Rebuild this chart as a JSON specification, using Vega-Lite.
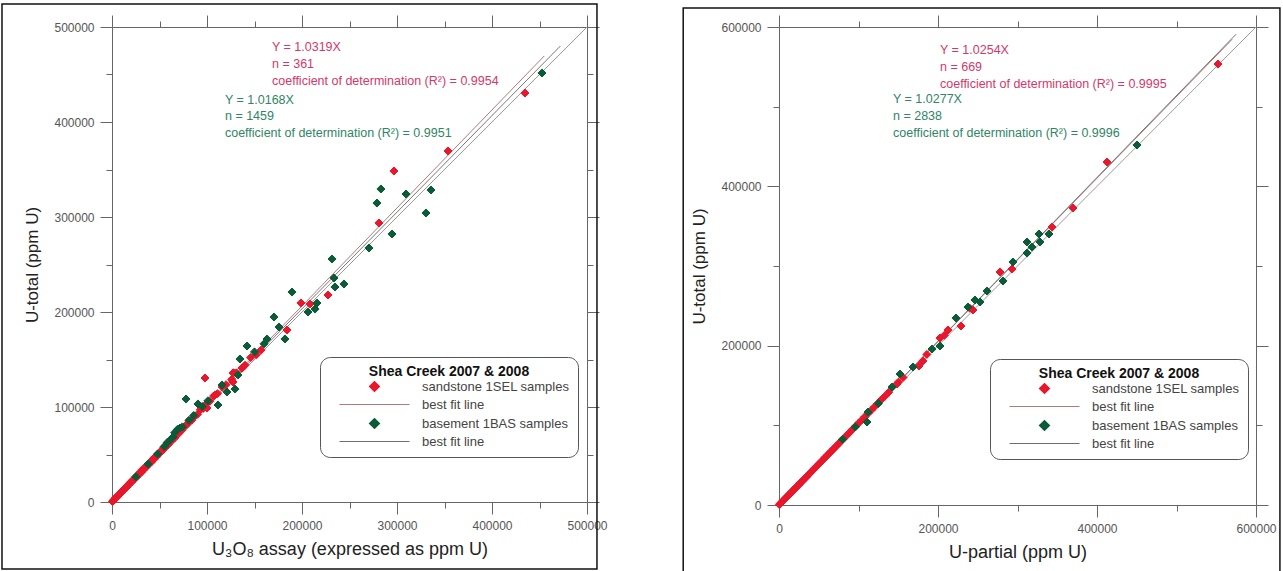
{
  "$schema": "https://vega.github.io/schema/vega-lite/v6.json",
  "padding": {"left": 1, "top": 3, "right": 1, "bottom": 1},
  "config": {
    "font": "Liberation Sans",
    "view": {"stroke": null},
    "axis": {"labelFont": "Liberation Sans", "labelFontSize": 12, "labelColor": "#555", "titleFont": "Liberation Sans", "titleFontSize": 17, "titleFontWeight": "normal", "titleColor": "#222", "domainColor": "#666", "tickColor": "#666", "grid": false, "labelOverlap": false, "labelFlush": false},
    "legend": {"strokeColor": "#555", "cornerRadius": 10, "padding": 8, "fillColor": "#fff", "titleFont": "Liberation Sans", "titleFontSize": 14, "titleFontWeight": "bold", "titleColor": "#111", "titleAnchor": "middle", "titlePadding": 1, "labelFont": "Liberation Sans", "labelFontSize": 13, "labelColor": "#444", "symbolSize": 100, "symbolOffset": 40, "labelOffset": 41, "rowPadding": 4, "symbolStrokeWidth": 1.2}
  },
  "datasets": {
    "leftPts": [
      {"x":500,"y":600,"key":"sandstone 1SEL samples"},{"x":1200,"y":1100,"key":"sandstone 1SEL samples"},{"x":2000,"y":2300,"key":"sandstone 1SEL samples"},{"x":3000,"y":2900,"key":"sandstone 1SEL samples"},{"x":3500,"y":4100,"key":"sandstone 1SEL samples"},{"x":4500,"y":4800,"key":"sandstone 1SEL samples"},{"x":5500,"y":5400,"key":"sandstone 1SEL samples"},{"x":6500,"y":7000,"key":"sandstone 1SEL samples"},{"x":7500,"y":7600,"key":"sandstone 1SEL samples"},{"x":8500,"y":9100,"key":"sandstone 1SEL samples"},{"x":9500,"y":9600,"key":"sandstone 1SEL samples"},{"x":10500,"y":11200,"key":"sandstone 1SEL samples"},{"x":11500,"y":11700,"key":"sandstone 1SEL samples"},{"x":12500,"y":13400,"key":"sandstone 1SEL samples"},{"x":13500,"y":13700,"key":"sandstone 1SEL samples"},{"x":14500,"y":15300,"key":"sandstone 1SEL samples"},{"x":15500,"y":15600,"key":"sandstone 1SEL samples"},{"x":16500,"y":17600,"key":"sandstone 1SEL samples"},{"x":17500,"y":17800,"key":"sandstone 1SEL samples"},{"x":18500,"y":19400,"key":"sandstone 1SEL samples"},{"x":19500,"y":20800,"key":"sandstone 1SEL samples"},{"x":21000,"y":21300,"key":"sandstone 1SEL samples"},{"x":22000,"y":23200,"key":"sandstone 1SEL samples"},{"x":23500,"y":24000,"key":"sandstone 1SEL samples"},{"x":24500,"y":25800,"key":"sandstone 1SEL samples"},{"x":26000,"y":26500,"key":"sandstone 1SEL samples"},{"x":27000,"y":28400,"key":"sandstone 1SEL samples"},{"x":28500,"y":29000,"key":"sandstone 1SEL samples"},{"x":29500,"y":31200,"key":"sandstone 1SEL samples"},{"x":31000,"y":31500,"key":"sandstone 1SEL samples"},{"x":32000,"y":33800,"key":"sandstone 1SEL samples"},{"x":33500,"y":34100,"key":"sandstone 1SEL samples"},{"x":34500,"y":36200,"key":"sandstone 1SEL samples"},{"x":36000,"y":36800,"key":"sandstone 1SEL samples"},{"x":37500,"y":39100,"key":"sandstone 1SEL samples"},{"x":38500,"y":39200,"key":"sandstone 1SEL samples"},{"x":40000,"y":41800,"key":"sandstone 1SEL samples"},{"x":41500,"y":42200,"key":"sandstone 1SEL samples"},{"x":43000,"y":45100,"key":"sandstone 1SEL samples"},{"x":44000,"y":44900,"key":"sandstone 1SEL samples"},{"x":45500,"y":47600,"key":"sandstone 1SEL samples"},{"x":47000,"y":47800,"key":"sandstone 1SEL samples"},{"x":48500,"y":50700,"key":"sandstone 1SEL samples"},{"x":50000,"y":51200,"key":"sandstone 1SEL samples"},{"x":51500,"y":53800,"key":"sandstone 1SEL samples"},{"x":53000,"y":54000,"key":"sandstone 1SEL samples"},{"x":54500,"y":57100,"key":"sandstone 1SEL samples"},{"x":56000,"y":57200,"key":"sandstone 1SEL samples"},{"x":57500,"y":60000,"key":"sandstone 1SEL samples"},{"x":59000,"y":60200,"key":"sandstone 1SEL samples"},{"x":61000,"y":63600,"key":"sandstone 1SEL samples"},{"x":62500,"y":64000,"key":"sandstone 1SEL samples"},{"x":64000,"y":67100,"key":"sandstone 1SEL samples"},{"x":66000,"y":67400,"key":"sandstone 1SEL samples"},{"x":68000,"y":71000,"key":"sandstone 1SEL samples"},{"x":70000,"y":71800,"key":"sandstone 1SEL samples"},{"x":72000,"y":75400,"key":"sandstone 1SEL samples"},{"x":74000,"y":76000,"key":"sandstone 1SEL samples"},{"x":76500,"y":79800,"key":"sandstone 1SEL samples"},{"x":79000,"y":81500,"key":"sandstone 1SEL samples"},{"x":81500,"y":85000,"key":"sandstone 1SEL samples"},{"x":84000,"y":86200,"key":"sandstone 1SEL samples"},{"x":87000,"y":90600,"key":"sandstone 1SEL samples"},{"x":90000,"y":92300,"key":"sandstone 1SEL samples"},{"x":93000,"y":97000,"key":"sandstone 1SEL samples"},{"x":96000,"y":98500,"key":"sandstone 1SEL samples"},{"x":99000,"y":103000,"key":"sandstone 1SEL samples"},{"x":103000,"y":106000,"key":"sandstone 1SEL samples"},{"x":107000,"y":111500,"key":"sandstone 1SEL samples"},{"x":111000,"y":114000,"key":"sandstone 1SEL samples"},{"x":116000,"y":121000,"key":"sandstone 1SEL samples"},{"x":120000,"y":123500,"key":"sandstone 1SEL samples"},{"x":126000,"y":129000,"key":"sandstone 1SEL samples"},{"x":131000,"y":136000,"key":"sandstone 1SEL samples"},{"x":137000,"y":141000,"key":"sandstone 1SEL samples"},{"x":128000,"y":136000,"key":"sandstone 1SEL samples"},{"x":140000,"y":144000,"key":"sandstone 1SEL samples"},{"x":146000,"y":152000,"key":"sandstone 1SEL samples"},{"x":152000,"y":155000,"key":"sandstone 1SEL samples"},{"x":157000,"y":160000,"key":"sandstone 1SEL samples"},
      {"x":434700,"y":430500,"key":"sandstone 1SEL samples"},{"x":353700,"y":369500,"key":"sandstone 1SEL samples"},{"x":296800,"y":348400,"key":"sandstone 1SEL samples"},{"x":281000,"y":293700,"key":"sandstone 1SEL samples"},{"x":227400,"y":217900,"key":"sandstone 1SEL samples"},{"x":198900,"y":209500,"key":"sandstone 1SEL samples"},{"x":208400,"y":208400,"key":"sandstone 1SEL samples"},{"x":184200,"y":181000,"key":"sandstone 1SEL samples"},{"x":136800,"y":141000,"key":"sandstone 1SEL samples"},{"x":127400,"y":135800,"key":"sandstone 1SEL samples"},{"x":97900,"y":130500,"key":"sandstone 1SEL samples"},{"x":127400,"y":126300,"key":"sandstone 1SEL samples"},{"x":108400,"y":112600,"key":"sandstone 1SEL samples"},{"x":100000,"y":98900,"key":"sandstone 1SEL samples"},{"x":85300,"y":88400,"key":"sandstone 1SEL samples"},
      {"x":452600,"y":451600,"key":"basement 1BAS samples"},{"x":283100,"y":329500,"key":"basement 1BAS samples"},{"x":309500,"y":324200,"key":"basement 1BAS samples"},{"x":335800,"y":328400,"key":"basement 1BAS samples"},{"x":278900,"y":314700,"key":"basement 1BAS samples"},{"x":330500,"y":304200,"key":"basement 1BAS samples"},{"x":294700,"y":282100,"key":"basement 1BAS samples"},{"x":270500,"y":267400,"key":"basement 1BAS samples"},{"x":231600,"y":255800,"key":"basement 1BAS samples"},{"x":233700,"y":235800,"key":"basement 1BAS samples"},{"x":244200,"y":229500,"key":"basement 1BAS samples"},{"x":234700,"y":226300,"key":"basement 1BAS samples"},{"x":189500,"y":221000,"key":"basement 1BAS samples"},{"x":215800,"y":209500,"key":"basement 1BAS samples"},{"x":213700,"y":203100,"key":"basement 1BAS samples"},{"x":206300,"y":200000,"key":"basement 1BAS samples"},{"x":170500,"y":194700,"key":"basement 1BAS samples"},{"x":175800,"y":184200,"key":"basement 1BAS samples"},{"x":163200,"y":171600,"key":"basement 1BAS samples"},{"x":182100,"y":171600,"key":"basement 1BAS samples"},{"x":142100,"y":164200,"key":"basement 1BAS samples"},{"x":134700,"y":150500,"key":"basement 1BAS samples"},{"x":132600,"y":133700,"key":"basement 1BAS samples"},{"x":129500,"y":118900,"key":"basement 1BAS samples"},{"x":115800,"y":123200,"key":"basement 1BAS samples"},{"x":121000,"y":115800,"key":"basement 1BAS samples"},{"x":77900,"y":108400,"key":"basement 1BAS samples"},{"x":90500,"y":103200,"key":"basement 1BAS samples"},{"x":111600,"y":102100,"key":"basement 1BAS samples"},{"x":71600,"y":77900,"key":"basement 1BAS samples"},{"x":64200,"y":68400,"key":"basement 1BAS samples"},{"x":61100,"y":65300,"key":"basement 1BAS samples"},{"x":66000,"y":73000,"key":"basement 1BAS samples"},{"x":69000,"y":76500,"key":"basement 1BAS samples"},{"x":74000,"y":79000,"key":"basement 1BAS samples"},{"x":58000,"y":62500,"key":"basement 1BAS samples"},{"x":55000,"y":58500,"key":"basement 1BAS samples"},{"x":81000,"y":86000,"key":"basement 1BAS samples"},{"x":86000,"y":91000,"key":"basement 1BAS samples"},{"x":95000,"y":100500,"key":"basement 1BAS samples"},{"x":101000,"y":106500,"key":"basement 1BAS samples"},{"x":48000,"y":50500,"key":"basement 1BAS samples"},{"x":38000,"y":40000,"key":"basement 1BAS samples"},{"x":25000,"y":26500,"key":"basement 1BAS samples"},{"x":150000,"y":158000,"key":"basement 1BAS samples"},{"x":160000,"y":166500,"key":"basement 1BAS samples"}
    ],
    "rightPts": [
      {"x":500,"y":500,"key":"sandstone 1SEL samples"},{"x":1500,"y":1600,"key":"sandstone 1SEL samples"},{"x":2500,"y":2600,"key":"sandstone 1SEL samples"},{"x":4000,"y":4000,"key":"sandstone 1SEL samples"},{"x":5000,"y":5200,"key":"sandstone 1SEL samples"},{"x":6500,"y":6600,"key":"sandstone 1SEL samples"},{"x":8000,"y":8300,"key":"sandstone 1SEL samples"},{"x":9000,"y":9200,"key":"sandstone 1SEL samples"},{"x":10500,"y":10800,"key":"sandstone 1SEL samples"},{"x":12000,"y":12300,"key":"sandstone 1SEL samples"},{"x":13000,"y":13400,"key":"sandstone 1SEL samples"},{"x":14500,"y":14800,"key":"sandstone 1SEL samples"},{"x":16000,"y":16500,"key":"sandstone 1SEL samples"},{"x":17500,"y":17900,"key":"sandstone 1SEL samples"},{"x":19000,"y":19600,"key":"sandstone 1SEL samples"},{"x":20500,"y":21000,"key":"sandstone 1SEL samples"},{"x":22000,"y":22600,"key":"sandstone 1SEL samples"},{"x":24000,"y":24600,"key":"sandstone 1SEL samples"},{"x":25500,"y":26200,"key":"sandstone 1SEL samples"},{"x":27000,"y":27800,"key":"sandstone 1SEL samples"},{"x":29000,"y":29700,"key":"sandstone 1SEL samples"},{"x":30500,"y":31400,"key":"sandstone 1SEL samples"},{"x":32000,"y":32900,"key":"sandstone 1SEL samples"},{"x":34000,"y":34800,"key":"sandstone 1SEL samples"},{"x":36000,"y":36900,"key":"sandstone 1SEL samples"},{"x":37500,"y":38600,"key":"sandstone 1SEL samples"},{"x":39500,"y":40500,"key":"sandstone 1SEL samples"},{"x":41500,"y":42700,"key":"sandstone 1SEL samples"},{"x":43500,"y":44600,"key":"sandstone 1SEL samples"},{"x":45500,"y":46800,"key":"sandstone 1SEL samples"},{"x":47500,"y":48700,"key":"sandstone 1SEL samples"},{"x":50000,"y":51300,"key":"sandstone 1SEL samples"},{"x":52000,"y":53400,"key":"sandstone 1SEL samples"},{"x":54500,"y":55800,"key":"sandstone 1SEL samples"},{"x":57000,"y":58600,"key":"sandstone 1SEL samples"},{"x":59000,"y":60500,"key":"sandstone 1SEL samples"},{"x":61500,"y":63100,"key":"sandstone 1SEL samples"},{"x":64000,"y":65700,"key":"sandstone 1SEL samples"},{"x":66500,"y":68200,"key":"sandstone 1SEL samples"},{"x":69000,"y":70800,"key":"sandstone 1SEL samples"},{"x":72000,"y":73800,"key":"sandstone 1SEL samples"},{"x":75000,"y":77000,"key":"sandstone 1SEL samples"},{"x":78000,"y":80000,"key":"sandstone 1SEL samples"},{"x":81000,"y":83200,"key":"sandstone 1SEL samples"},{"x":84000,"y":86100,"key":"sandstone 1SEL samples"},{"x":87000,"y":89300,"key":"sandstone 1SEL samples"},{"x":90000,"y":92200,"key":"sandstone 1SEL samples"},{"x":93000,"y":95500,"key":"sandstone 1SEL samples"},{"x":97000,"y":99500,"key":"sandstone 1SEL samples"},{"x":100000,"y":102700,"key":"sandstone 1SEL samples"},{"x":104000,"y":106600,"key":"sandstone 1SEL samples"},{"x":108000,"y":110800,"key":"sandstone 1SEL samples"},{"x":112000,"y":115000,"key":"sandstone 1SEL samples"},{"x":116000,"y":119000,"key":"sandstone 1SEL samples"},{"x":120000,"y":123000,"key":"sandstone 1SEL samples"},{"x":124000,"y":127200,"key":"sandstone 1SEL samples"},{"x":128000,"y":131500,"key":"sandstone 1SEL samples"},{"x":133000,"y":136300,"key":"sandstone 1SEL samples"},{"x":138000,"y":141500,"key":"sandstone 1SEL samples"},{"x":150000,"y":154000,"key":"sandstone 1SEL samples"},{"x":156000,"y":160000,"key":"sandstone 1SEL samples"},
      {"x":552200,"y":553500,"key":"sandstone 1SEL samples"},{"x":412600,"y":430500,"key":"sandstone 1SEL samples"},{"x":369800,"y":372800,"key":"sandstone 1SEL samples"},{"x":343400,"y":348900,"key":"sandstone 1SEL samples"},{"x":293100,"y":296200,"key":"sandstone 1SEL samples"},{"x":278000,"y":292500,"key":"sandstone 1SEL samples"},{"x":244000,"y":244800,"key":"sandstone 1SEL samples"},{"x":228900,"y":224700,"key":"sandstone 1SEL samples"},{"x":212600,"y":219700,"key":"sandstone 1SEL samples"},{"x":202500,"y":209600,"key":"sandstone 1SEL samples"},{"x":181100,"y":180800,"key":"sandstone 1SEL samples"},{"x":176100,"y":174500,"key":"sandstone 1SEL samples"},{"x":148400,"y":151900,"key":"sandstone 1SEL samples"},{"x":186000,"y":189000,"key":"sandstone 1SEL samples"},{"x":208000,"y":213000,"key":"sandstone 1SEL samples"},{"x":240000,"y":247000,"key":"sandstone 1SEL samples"},
      {"x":450300,"y":451900,"key":"basement 1BAS samples"},{"x":339600,"y":340200,"key":"basement 1BAS samples"},{"x":327000,"y":340200,"key":"basement 1BAS samples"},{"x":312000,"y":330100,"key":"basement 1BAS samples"},{"x":318200,"y":323800,"key":"basement 1BAS samples"},{"x":312000,"y":316300,"key":"basement 1BAS samples"},{"x":328300,"y":330100,"key":"basement 1BAS samples"},{"x":294300,"y":305000,"key":"basement 1BAS samples"},{"x":281800,"y":281200,"key":"basement 1BAS samples"},{"x":261600,"y":268600,"key":"basement 1BAS samples"},{"x":246500,"y":257300,"key":"basement 1BAS samples"},{"x":252800,"y":254800,"key":"basement 1BAS samples"},{"x":237700,"y":248500,"key":"basement 1BAS samples"},{"x":222600,"y":234700,"key":"basement 1BAS samples"},{"x":192500,"y":195800,"key":"basement 1BAS samples"},{"x":202500,"y":199600,"key":"basement 1BAS samples"},{"x":168600,"y":173200,"key":"basement 1BAS samples"},{"x":152200,"y":164400,"key":"basement 1BAS samples"},{"x":142100,"y":148100,"key":"basement 1BAS samples"},{"x":112000,"y":116700,"key":"basement 1BAS samples"},{"x":110700,"y":104200,"key":"basement 1BAS samples"},{"x":125000,"y":127500,"key":"basement 1BAS samples"},{"x":96000,"y":98000,"key":"basement 1BAS samples"},{"x":80000,"y":82500,"key":"basement 1BAS samples"}
    ]
  },
  "hconcat": [
    {
      "width": 475,
      "height": 475,
      "resolve": {"axis": {"x": "independent", "y": "independent"}},
      "layer": [
        {
          "data": {"values": [{}]},
          "mark": {"type": "rect", "filled": false, "stroke": "#111", "strokeWidth": 1.5, "clip": false},
          "encoding": {
            "x": {"datum": -115800, "type": "quantitative", "scale": {"domain": [0, 500000], "nice": false, "zero": false}, "axis": null},
            "x2": {"datum": 510500},
            "y": {"datum": 524200, "type": "quantitative", "scale": {"domain": [0, 500000], "nice": false, "zero": false}, "axis": null},
            "y2": {"datum": -70500}
          }
        },
        {
          "data": {"values": [{"x": 0, "y": 0}, {"x": 500000, "y": 500000}]},
          "mark": {"type": "line", "color": "#9a9a9a", "strokeWidth": 1},
          "encoding": {
            "x": {"field": "x", "type": "quantitative", "scale": {"domain": [0, 500000], "nice": false, "zero": false},
              "axis": {"orient": "top", "values": [0,50000,100000,150000,200000,250000,300000,350000,400000,450000,500000], "labels": false, "title": null, "tickSize": {"condition": {"test": "datum.value % 100000 === 0", "value": 12}, "value": 6}}},
            "y": {"field": "y", "type": "quantitative", "scale": {"domain": [0, 500000], "nice": false, "zero": false},
              "axis": {"orient": "right", "values": [0,50000,100000,150000,200000,250000,300000,350000,400000,450000,500000], "labels": false, "title": null, "tickSize": {"condition": {"test": "datum.value % 100000 === 0", "value": 12}, "value": 6}}}
          }
        },
        {
          "data": {"values": [{"x": 0, "y": 0}, {"x": 455000, "y": 469500}]},
          "mark": {"type": "line", "color": "#b07a7a", "strokeWidth": 1},
          "encoding": {
            "x": {"field": "x", "type": "quantitative", "scale": {"domain": [0, 500000], "nice": false, "zero": false}, "axis": null},
            "y": {"field": "y", "type": "quantitative", "scale": {"domain": [0, 500000], "nice": false, "zero": false}, "axis": null}
          }
        },
        {
          "data": {"values": [{"x": 0, "y": 0}, {"x": 472000, "y": 480000}]},
          "mark": {"type": "line", "color": "#777777", "strokeWidth": 1},
          "encoding": {
            "x": {"field": "x", "type": "quantitative", "scale": {"domain": [0, 500000], "nice": false, "zero": false}, "axis": null},
            "y": {"field": "y", "type": "quantitative", "scale": {"domain": [0, 500000], "nice": false, "zero": false}, "axis": null}
          }
        },
        {
          "data": {"name": "leftPts"},
          "mark": {"type": "point", "filled": true, "size": 65, "opacity": 1, "strokeWidth": 1},
          "encoding": {
            "x": {"field": "x", "type": "quantitative", "scale": {"domain": [0, 500000], "nice": false, "zero": false},
              "axis": {"orient": "bottom", "values": [0,50000,100000,150000,200000,250000,300000,350000,400000,450000,500000], "format": "d", "labelExpr": "datum.value % 100000 === 0 ? datum.label : ''", "labelPadding": 6, "title": "U₃O₈ assay (expressed as ppm U)", "titleFontSize": 18, "titlePadding": 9, "tickSize": {"condition": {"test": "datum.value % 100000 === 0", "value": 12}, "value": 6}}},
            "y": {"field": "y", "type": "quantitative", "scale": {"domain": [0, 500000], "nice": false, "zero": false},
              "axis": {"orient": "left", "values": [0,50000,100000,150000,200000,250000,300000,350000,400000,450000,500000], "format": "d", "labelExpr": "datum.value % 100000 === 0 ? datum.label : ''", "labelPadding": 6, "title": "U-total (ppm U)", "titlePadding": 12, "tickSize": {"condition": {"test": "datum.value % 100000 === 0", "value": 12}, "value": 6}}},
            "color": {"field": "key", "type": "nominal",
              "scale": {"domain": ["sandstone 1SEL samples", "best fit line", "basement 1BAS samples", "best fit line "], "range": ["#e8172b", "#b07a7a", "#0b5a38", "#6e6e6e"]},
              "legend": {"title": "Shea Creek 2007 & 2008", "orient": "none", "legendX": 208, "legendY": 330}},
            "stroke": {"field": "key", "type": "nominal",
              "scale": {"domain": ["sandstone 1SEL samples", "best fit line", "basement 1BAS samples", "best fit line "], "range": ["#e8172b", "#b07a7a", "#0b5a38", "#6e6e6e"]},
              "legend": {"title": "Shea Creek 2007 & 2008", "orient": "none", "legendX": 208, "legendY": 330}},
            "shape": {"field": "key", "type": "nominal",
              "scale": {"domain": ["sandstone 1SEL samples", "best fit line", "basement 1BAS samples", "best fit line "], "range": ["diamond", "M-7,0H7", "diamond", "M-7,0H7"]},
              "legend": {"title": "Shea Creek 2007 & 2008", "orient": "none", "legendX": 208, "legendY": 330}}
          }
        },
        {
          "data": {"values": [{"t": "Y = 1.0319X\nn = 361\ncoefficient of determination (R²) = 0.9954"}]},
          "mark": {"type": "text", "lineBreak": "\n", "align": "left", "baseline": "top", "fontSize": 12.5, "lineHeight": 16.8, "color": "#d4376a", "font": "Liberation Sans"},
          "encoding": {
            "x": {"datum": 168400, "type": "quantitative", "scale": {"domain": [0, 500000], "nice": false, "zero": false}, "axis": null},
            "y": {"datum": 485000, "type": "quantitative", "scale": {"domain": [0, 500000], "nice": false, "zero": false}, "axis": null},
            "text": {"field": "t"}
          }
        },
        {
          "data": {"values": [{"t": "Y = 1.0168X\nn = 1459\ncoefficient of determination (R²) = 0.9951"}]},
          "mark": {"type": "text", "lineBreak": "\n", "align": "left", "baseline": "top", "fontSize": 12.5, "lineHeight": 16.8, "color": "#2f8565", "font": "Liberation Sans"},
          "encoding": {
            "x": {"datum": 118900, "type": "quantitative", "scale": {"domain": [0, 500000], "nice": false, "zero": false}, "axis": null},
            "y": {"datum": 430000, "type": "quantitative", "scale": {"domain": [0, 500000], "nice": false, "zero": false}, "axis": null},
            "text": {"field": "t"}
          }
        }
      ]
    },
    {
      "width": 477,
      "height": 478,
      "resolve": {"axis": {"x": "independent", "y": "independent"}},
      "layer": [
        {
          "data": {"values": [{}]},
          "mark": {"type": "rect", "filled": false, "stroke": "#111", "strokeWidth": 1.5, "clip": false},
          "encoding": {
            "x": {"datum": -120500, "type": "quantitative", "scale": {"domain": [0, 600000], "nice": false, "zero": false}, "axis": null},
            "x2": {"datum": 630100},
            "y": {"datum": 623800, "type": "quantitative", "scale": {"domain": [0, 600000], "nice": false, "zero": false}, "axis": null},
            "y2": {"datum": -85400}
          }
        },
        {
          "data": {"values": [{"x": 0, "y": 0}, {"x": 600000, "y": 600000}]},
          "mark": {"type": "line", "color": "#9a9a9a", "strokeWidth": 1},
          "encoding": {
            "x": {"field": "x", "type": "quantitative", "scale": {"domain": [0, 600000], "nice": false, "zero": false},
              "axis": {"orient": "top", "values": [0,100000,200000,300000,400000,500000,600000], "labels": false, "title": null, "tickSize": {"condition": {"test": "datum.value % 200000 === 0", "value": 12}, "value": 6}}},
            "y": {"field": "y", "type": "quantitative", "scale": {"domain": [0, 600000], "nice": false, "zero": false},
              "axis": {"orient": "right", "values": [0,100000,200000,300000,400000,500000,600000], "labels": false, "title": null, "tickSize": {"condition": {"test": "datum.value % 200000 === 0", "value": 12}, "value": 6}}}
          }
        },
        {
          "data": {"values": [{"x": 0, "y": 0}, {"x": 570000, "y": 584500}]},
          "mark": {"type": "line", "color": "#b07a7a", "strokeWidth": 1},
          "encoding": {
            "x": {"field": "x", "type": "quantitative", "scale": {"domain": [0, 600000], "nice": false, "zero": false}, "axis": null},
            "y": {"field": "y", "type": "quantitative", "scale": {"domain": [0, 600000], "nice": false, "zero": false}, "axis": null}
          }
        },
        {
          "data": {"values": [{"x": 0, "y": 0}, {"x": 575000, "y": 591000}]},
          "mark": {"type": "line", "color": "#777777", "strokeWidth": 1},
          "encoding": {
            "x": {"field": "x", "type": "quantitative", "scale": {"domain": [0, 600000], "nice": false, "zero": false}, "axis": null},
            "y": {"field": "y", "type": "quantitative", "scale": {"domain": [0, 600000], "nice": false, "zero": false}, "axis": null}
          }
        },
        {
          "data": {"name": "rightPts"},
          "mark": {"type": "point", "filled": true, "size": 65, "opacity": 1, "strokeWidth": 1},
          "encoding": {
            "x": {"field": "x", "type": "quantitative", "scale": {"domain": [0, 600000], "nice": false, "zero": false},
              "axis": {"orient": "bottom", "values": [0,100000,200000,300000,400000,500000,600000], "format": "d", "labelExpr": "datum.value % 200000 === 0 ? datum.label : ''", "labelPadding": 6, "title": "U-partial (ppm U)", "titleFontSize": 18, "titlePadding": 9, "tickSize": {"condition": {"test": "datum.value % 200000 === 0", "value": 12}, "value": 6}}},
            "y": {"field": "y", "type": "quantitative", "scale": {"domain": [0, 600000], "nice": false, "zero": false},
              "axis": {"orient": "left", "values": [0,100000,200000,300000,400000,500000,600000], "format": "d", "labelExpr": "datum.value % 200000 === 0 ? datum.label : ''", "labelPadding": 6, "title": "U-total (ppm U)", "titlePadding": 12, "tickSize": {"condition": {"test": "datum.value % 200000 === 0", "value": 12}, "value": 6}}},
            "color": {"field": "key", "type": "nominal",
              "scale": {"domain": ["sandstone 1SEL samples", "best fit line", "basement 1BAS samples", "best fit line "], "range": ["#e8172b", "#b07a7a", "#0b5a38", "#6e6e6e"]},
              "legend": {"title": "Shea Creek 2007 & 2008", "orient": "none", "legendX": 211, "legendY": 332}},
            "stroke": {"field": "key", "type": "nominal",
              "scale": {"domain": ["sandstone 1SEL samples", "best fit line", "basement 1BAS samples", "best fit line "], "range": ["#e8172b", "#b07a7a", "#0b5a38", "#6e6e6e"]},
              "legend": {"title": "Shea Creek 2007 & 2008", "orient": "none", "legendX": 211, "legendY": 332}},
            "shape": {"field": "key", "type": "nominal",
              "scale": {"domain": ["sandstone 1SEL samples", "best fit line", "basement 1BAS samples", "best fit line "], "range": ["diamond", "M-7,0H7", "diamond", "M-7,0H7"]},
              "legend": {"title": "Shea Creek 2007 & 2008", "orient": "none", "legendX": 211, "legendY": 332}}
          }
        },
        {
          "data": {"values": [{"t": "Y = 1.0254X\nn = 669\ncoefficient of determination (R²) = 0.9995"}]},
          "mark": {"type": "text", "lineBreak": "\n", "align": "left", "baseline": "top", "fontSize": 12.5, "lineHeight": 16.8, "color": "#d4376a", "font": "Liberation Sans"},
          "encoding": {
            "x": {"datum": 202500, "type": "quantitative", "scale": {"domain": [0, 600000], "nice": false, "zero": false}, "axis": null},
            "y": {"datum": 578600, "type": "quantitative", "scale": {"domain": [0, 600000], "nice": false, "zero": false}, "axis": null},
            "text": {"field": "t"}
          }
        },
        {
          "data": {"values": [{"t": "Y = 1.0277X\nn = 2838\ncoefficient of determination (R²) = 0.9996"}]},
          "mark": {"type": "text", "lineBreak": "\n", "align": "left", "baseline": "top", "fontSize": 12.5, "lineHeight": 16.8, "color": "#2f8565", "font": "Liberation Sans"},
          "encoding": {
            "x": {"datum": 143400, "type": "quantitative", "scale": {"domain": [0, 600000], "nice": false, "zero": false}, "axis": null},
            "y": {"datum": 517100, "type": "quantitative", "scale": {"domain": [0, 600000], "nice": false, "zero": false}, "axis": null},
            "text": {"field": "t"}
          }
        }
      ]
    }
  ],
  "spacing": 74,
  "resolve": {"scale": {"color": "independent", "stroke": "independent", "shape": "independent"}, "legend": {"color": "independent", "stroke": "independent", "shape": "independent"}}
}
